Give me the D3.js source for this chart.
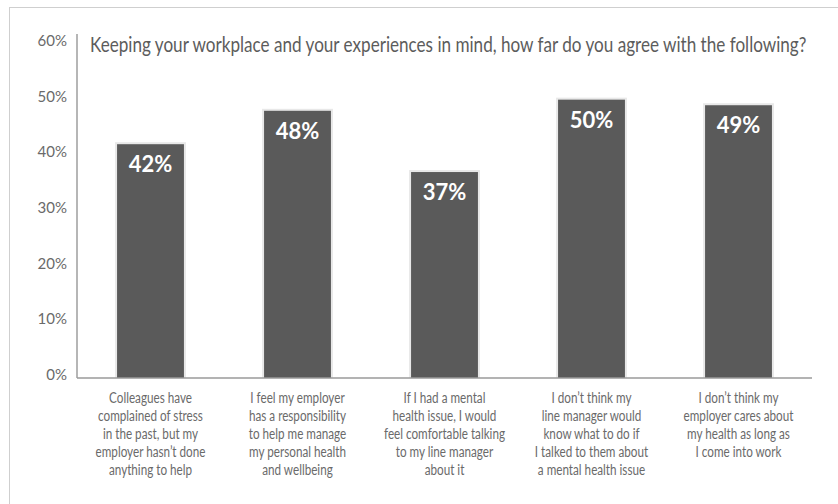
<!DOCTYPE html>
<html>
<head>
<meta charset="utf-8">
<script src="https://cdn.jsdelivr.net/npm/d3@7"></script>
<style>
  html, body { margin: 0; padding: 0; background: #fff; }
  svg { display: block; font-family: Lato, "Open Sans", sans-serif; }
</style>
</head>
<body>
<svg id="chart" width="838" height="504"></svg>
<script>
// Survey results: share agreeing with each statement
const categories = [
  ["Colleagues have", "complained of stress", "in the past, but my", "employer hasn\u2019t done", "anything to help"],
  ["I feel my employer", "has a responsibility", "to help me manage", "my personal health", "and wellbeing"],
  ["If I had a mental", "health issue, I would", "feel comfortable talking", "to my line manager", "about it"],
  ["I don\u2019t think my", "line manager would", "know what to do if", "I talked to them about", "a mental health issue"],
  ["I don\u2019t think my", "employer cares about", "my health as long as", "I come into work"]
];
const values = [42, 48, 37, 50, 49];
const yTicks = [0, 10, 20, 30, 40, 50, 60];
const title = "Keeping your workplace and your experiences in mind, how far do you agree with the following?";

const svg = d3.select("#chart");

// Frame around the chart panel
svg.append("rect")
  .attr("x", 9.5).attr("y", 7.5)
  .attr("width", 840).attr("height", 510)
  .attr("fill", "#fff")
  .attr("stroke", "#cfcfcf").attr("stroke-width", 1);

const plotLeft = 77, plotRight = 812, plotTop = 34, plotBottom = 378;

const x = d3.scaleBand()
  .domain(d3.range(values.length))
  .range([plotLeft, plotRight])
  .paddingInner(0.545)
  .paddingOuter(0.2725);

const y = d3.scaleLinear().domain([0, 60]).range([plotBottom, 44]);

// Bars with a faint light halo
const bars = svg.append("g");
bars.selectAll("rect.halo")
  .data(values)
  .join("rect")
  .attr("class", "halo")
  .attr("x", (d, i) => x(i) - 2)
  .attr("y", d => y(d) - 2)
  .attr("width", x.bandwidth() + 4)
  .attr("height", d => plotBottom - y(d) + 2)
  .attr("fill", "#e8e8e8");

bars.selectAll("rect.bar")
  .data(values)
  .join("rect")
  .attr("class", "bar")
  .attr("x", (d, i) => x(i))
  .attr("y", d => y(d))
  .attr("width", x.bandwidth())
  .attr("height", d => plotBottom - y(d))
  .attr("fill", "#5a5a5a");

// Value labels inside the bars
bars.selectAll("text.val")
  .data(values)
  .join("text")
  .attr("class", "val")
  .attr("x", (d, i) => x(i) + x.bandwidth() / 2)
  .attr("y", d => y(d) + 28)
  .attr("text-anchor", "middle")
  .attr("fill", "#fff")
  .attr("font-size", 22)
  .attr("font-weight", 700)
  .text(d => d + "%");

// Y axis
const yAxis = d3.axisLeft(y)
  .tickValues(yTicks)
  .tickSize(0)
  .tickPadding(10)
  .tickFormat(d => d + "%");
const ya = svg.append("g")
  .attr("transform", `translate(${plotLeft},0)`)
  .call(yAxis);
ya.select(".domain").remove();
ya.selectAll("text")
  .attr("font-family", "Lato, 'Open Sans', sans-serif")
  .attr("font-size", 15)
  .attr("fill", "#6a6a6a")
  .attr("dy", "0.1em");

svg.append("line")
  .attr("x1", plotLeft).attr("x2", plotLeft)
  .attr("y1", plotTop).attr("y2", plotBottom)
  .attr("stroke", "#8f8f8f").attr("stroke-width", 1.3);

// X axis baseline
svg.append("line")
  .attr("x1", plotLeft).attr("x2", plotRight)
  .attr("y1", plotBottom).attr("y2", plotBottom)
  .attr("stroke", "#9a9a9a").attr("stroke-width", 1.5);

// Category labels, condensed horizontally
const labelScale = 0.78;
const catG = svg.append("g");
categories.forEach((lines, i) => {
  const g = catG.append("g")
    .attr("transform", `translate(${x(i) + x.bandwidth() / 2},0) scale(${labelScale},1)`);
  g.selectAll("text")
    .data(lines)
    .join("text")
    .attr("x", 0)
    .attr("y", (d, j) => 403.5 + j * 18)
    .attr("text-anchor", "middle")
    .attr("font-size", 15)
    .attr("fill", "#6a6a6a")
    .text(d => d);
});

// Title, fitted to the plot width
const titleText = svg.append("text")
  .attr("x", 0).attr("y", 0)
  .attr("font-size", 21)
  .attr("fill", "#5c5c5c")
  .text(title);
const tw = titleText.node().getComputedTextLength();
const tScale = 717 / tw;
titleText.attr("transform", `translate(90,52) scale(${tScale},1)`);
</script>
</body>
</html>
